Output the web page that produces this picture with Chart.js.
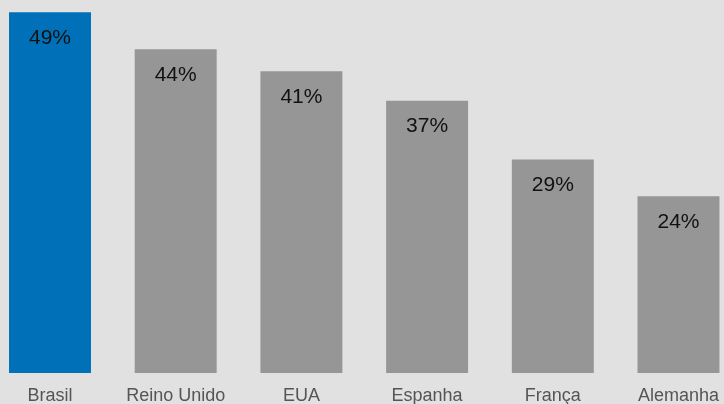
<!DOCTYPE html>
<html>
<head>
<meta charset="utf-8">
<script src="https://cdn.jsdelivr.net/npm/chart.js@4/dist/chart.umd.min.js"></script>
<style>
  html, body { margin: 0; padding: 0; background: #e1e1e1; }
  #wrap { width: 724px; height: 404px; position: relative; }
</style>
</head>
<body>
<div id="wrap"><canvas id="chart"></canvas></div>
<script>
const categories = ['Brasil', 'Reino Unido', 'EUA', 'Espanha', 'França', 'Alemanha'];
const values = [49, 44, 41, 37, 29, 24];
const barColors = ['#0070b8', '#969696', '#969696', '#969696', '#969696', '#969696'];

// Writes each bar's percentage just inside its top edge
const valueLabels = {
  id: 'valueLabels',
  afterDatasetsDraw(chart) {
    const ctx = chart.ctx;
    const meta = chart.getDatasetMeta(0);
    ctx.save();
    ctx.font = '21px "Liberation Sans", Arial, sans-serif';
    ctx.fillStyle = '#111111';
    ctx.textAlign = 'center';
    ctx.textBaseline = 'middle';
    meta.data.forEach((bar, i) => {
      ctx.fillText(values[i] + '%', bar.x, bar.y + 26);
    });
    ctx.restore();
  }
};

new Chart(document.getElementById('chart'), {
  type: 'bar',
  data: {
    labels: categories,
    datasets: [{
      data: values,
      backgroundColor: barColors,
      borderWidth: 0,
      categoryPercentage: 1,
      barPercentage: 0.652,
      clip: false
    }]
  },
  options: {
    responsive: true,
    maintainAspectRatio: false,
    animation: false,
    layout: { padding: { left: 50, right: 45.5, top: 5, bottom: 0 } },
    plugins: { legend: { display: false }, tooltip: { enabled: false } },
    scales: {
      x: {
        offset: false,
        afterFit(scale) {
          scale.height = 31;
          scale.paddingLeft = 0;
          scale.paddingRight = 0;
        },
        grid: { display: false, drawTicks: false },
        border: { display: false },
        ticks: {
          padding: 12,
          maxRotation: 0,
          autoSkip: false,
          color: '#555555',
          font: { family: '"Liberation Sans", Arial, sans-serif', size: 18 }
        }
      },
      y: {
        display: false,
        min: 0,
        max: 50
      }
    }
  },
  plugins: [valueLabels]
});
</script>
</body>
</html>
